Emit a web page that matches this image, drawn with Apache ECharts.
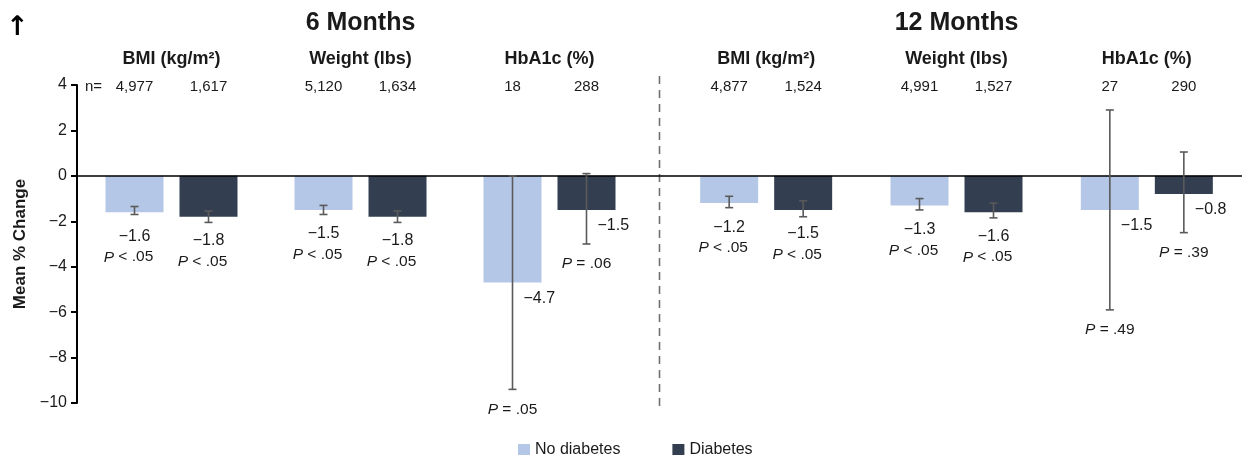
<!DOCTYPE html>
<html>
<head>
<meta charset="utf-8">
<title>Mean % change by diabetes status</title>
<script src="https://cdn.jsdelivr.net/npm/echarts@6/dist/echarts.min.js"></script>
<style>
  html, body { margin: 0; padding: 0; background: #fff; }
  #chart { width: 1242px; height: 455px; }
</style>
</head>
<body>
<div id="chart"></div>
<script>
// ---- data ----
const measures = ['BMI (kg/m²)', 'Weight (lbs)', 'HbA1c (%)'];
const periods = ['6 Months', '12 Months'];
const groupNames = ['No diabetes', 'Diabetes'];
const yTicks = { min: -10, max: 4, step: 2 };

// mean % change
const noDiab6 = [-1.6, -1.5, -4.7];
const diab6 = [-1.8, -1.8, -1.5];
const noDiab12 = [-1.2, -1.3, -1.5];
const diab12 = [-1.5, -1.6, -0.8];

// error bar ends [low, high]
const noDiab6Err = [[-1.7, -1.35], [-1.7, -1.3], [-9.4, 0]];
const diab6Err = [[-2.05, -1.55], [-2.05, -1.55], [-3.0, 0.1]];
const noDiab12Err = [[-1.4, -0.9], [-1.5, -1.0], [-5.9, 2.9]];
const diab12Err = [[-1.8, -1.1], [-1.85, -1.2], [-2.5, 1.05]];

// P values
const noDiab6P = ['< .05', '< .05', '= .05'];
const diab6P = ['< .05', '< .05', '= .06'];
const noDiab12P = ['< .05', '< .05', '= .49'];
const diab12P = ['< .05', '< .05', '= .39'];

// sample sizes
const noDiab6N = ['4,977', '5,120', '18'];
const diab6N = ['1,617', '1,634', '288'];
const noDiab12N = ['4,877', '4,991', '27'];
const diab12N = ['1,524', '1,527', '290'];

// ---- styling ----
const FONT = 'Liberation Sans';
const TEXT = '#1a1a1a';
const LIGHT = '#b4c7e7';
const DARK = '#333f50';
const WHISKER = '#5a5a5a';
const BAR_W = 58;
const BAR_GAP = 16;
const BESIDE = 2; // HbA1c: value label sits beside the bar

const fmt = v => (v < 0 ? '\u2212' : '') + Math.abs(v).toFixed(1);
const font = (size, weight) => (weight ? weight + ' ' : '') + size + 'px "' + FONT + '"';

function barSeries(name, values, axis, color) {
  return {
    type: 'bar', name: name, data: values,
    xAxisIndex: axis, yAxisIndex: axis,
    barWidth: BAR_W, barGap: (BAR_GAP / BAR_W * 100).toFixed(1) + '%',
    itemStyle: { color: color }, silent: true, z: 2
  };
}

function annotSeries(values, errs, pv, ns, axis, side) {
  return {
    type: 'custom', xAxisIndex: axis, yAxisIndex: axis, z: 6, silent: true,
    data: values.map((v, i) => [i, v, errs[i][0], errs[i][1]]),
    renderItem: function (params, api) {
      const k = params.dataIndex;
      const i = api.value(0);
      const v = api.value(1);
      const end = api.coord([i, v]);
      const x = end[0] + side * (BAR_W + BAR_GAP) / 2;
      const yEnd = end[1];
      const yLow = api.coord([i, api.value(2)])[1];
      const yHigh = api.coord([i, api.value(3)])[1];
      const yTop = api.coord([i, yTicks.max])[1];
      const cap = 4;
      const ls = { stroke: WHISKER, lineWidth: 1.6 };
      const kids = [
        { type: 'line', shape: { x1: x, y1: yLow, x2: x, y2: yHigh }, style: ls },
        { type: 'line', shape: { x1: x - cap, y1: yLow, x2: x + cap, y2: yLow }, style: ls },
        { type: 'line', shape: { x1: x - cap, y1: yHigh, x2: x + cap, y2: yHigh }, style: ls },
        { type: 'text', x: x, y: yTop + 2,
          style: { text: ns[k], font: font(15), fill: TEXT, align: 'center', verticalAlign: 'middle' } }
      ];
      const pText = {
        text: '{i|P} ' + pv[k],
        font: font(15.5), fill: TEXT, align: 'center', verticalAlign: 'middle',
        rich: { i: { fontStyle: 'italic', fontFamily: FONT, fontSize: 15.5, fill: TEXT } }
      };
      if (k === BESIDE) {
        kids.push({ type: 'text', x: x + 11, y: yEnd + 16,
          style: { text: fmt(v), font: font(16), fill: TEXT, align: 'left', verticalAlign: 'middle' } });
        kids.push({ type: 'text', x: x, y: yLow + 20, style: pText });
      } else {
        kids.push({ type: 'text', x: x, y: yEnd + 24,
          style: { text: fmt(v), font: font(16), fill: TEXT, align: 'center', verticalAlign: 'middle' } });
        kids.push({ type: 'text', x: x - 6, y: yEnd + 45, style: pText });
      }
      return { type: 'group', children: kids };
    }
  };
}

const hiddenY = axis => ({
  gridIndex: axis, type: 'value', min: yTicks.min, max: yTicks.max, interval: yTicks.step, show: false
});

const panelX = (axis, title) => ({
  gridIndex: axis, type: 'category', data: measures, position: 'top',
  axisLine: { show: false }, axisTick: { show: false }, splitLine: { show: false },
  axisLabel: { margin: 17, fontFamily: FONT, fontWeight: 'bold', fontSize: 18, color: TEXT, interval: 0 },
  name: title, nameLocation: 'middle', nameGap: 49,
  nameTextStyle: { fontFamily: FONT, fontWeight: 'bold', fontSize: 25, color: TEXT }
});

const option = {
  animation: false,
  backgroundColor: '#fff',
  textStyle: { fontFamily: FONT },
  grid: [
    { left: 77, right: 0, top: 85, bottom: 52 },
    { left: 77, width: 567, top: 85, bottom: 52 },
    { left: 671, width: 576, top: 85, bottom: 52 }
  ],
  xAxis: [
    { gridIndex: 0, type: 'value', min: 0, max: 1, z: 5,
      axisLine: { show: true, onZero: true, lineStyle: { color: '#000', width: 1.6 } },
      axisTick: { show: false }, axisLabel: { show: false }, splitLine: { show: false } },
    panelX(1, periods[0]),
    panelX(2, periods[1])
  ],
  yAxis: [
    { gridIndex: 0, type: 'value', min: yTicks.min, max: yTicks.max, interval: yTicks.step,
      axisLine: { show: true, lineStyle: { color: '#000', width: 2 } },
      axisTick: { show: true, length: 6, lineStyle: { color: '#000', width: 2 } },
      axisLabel: { margin: 10, fontFamily: FONT, fontSize: 16, color: TEXT, formatter: v => (v < 0 ? '\u2212' + Math.abs(v) : String(v)) },
      splitLine: { show: false },
      name: 'Mean % Change', nameLocation: 'middle', nameGap: 47,
      nameTextStyle: { fontFamily: FONT, fontWeight: 'bold', fontSize: 17, color: TEXT } },
    hiddenY(1),
    hiddenY(2)
  ],
  legend: {
    data: groupNames, left: 513, top: 437, icon: 'rect', itemWidth: 12, itemHeight: 12, itemGap: 52,
    textStyle: { fontFamily: FONT, fontSize: 16, color: TEXT }, selectedMode: false
  },
  graphic: [
    { type: 'text', left: 6, top: 14, style: { text: '\u2191', font: 'bold 27px "DejaVu Sans"', fill: '#000' } },
    { type: 'text', left: 85, top: 79, style: { text: 'n=', font: font(15), fill: TEXT } }
  ],
  series: [
    barSeries(groupNames[0], noDiab6, 1, LIGHT),
    barSeries(groupNames[1], diab6, 1, DARK),
    barSeries(groupNames[0], noDiab12, 2, LIGHT),
    barSeries(groupNames[1], diab12, 2, DARK),
    annotSeries(noDiab6, noDiab6Err, noDiab6P, noDiab6N, 1, -1),
    annotSeries(diab6, diab6Err, diab6P, diab6N, 1, 1),
    annotSeries(noDiab12, noDiab12Err, noDiab12P, noDiab12N, 2, -1),
    annotSeries(diab12, diab12Err, diab12P, diab12N, 2, 1),
    {
      // dashed divider between the two follow-up periods
      type: 'custom', xAxisIndex: 0, yAxisIndex: 0, silent: true, z: 1, clip: false,
      data: [[0.5]],
      renderItem: function (params, api) {
        const a = api.coord([api.value(0), yTicks.max + 0.4]);
        const b = api.coord([api.value(0), yTicks.min - 0.2]);
        return { type: 'line', shape: { x1: a[0], y1: a[1], x2: b[0], y2: b[1] },
          style: { stroke: '#707070', lineWidth: 1.6, lineDash: [8, 6] } };
      }
    }
  ]
};

echarts.init(document.getElementById('chart'), null, { renderer: 'canvas' }).setOption(option);
</script>
</body>
</html>
